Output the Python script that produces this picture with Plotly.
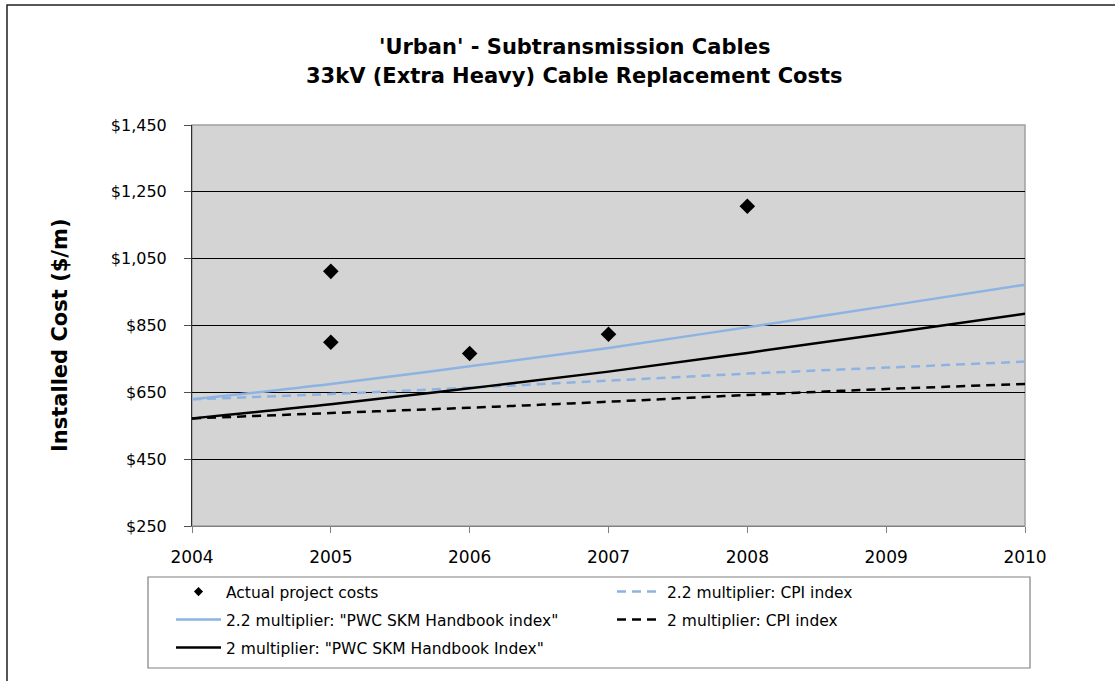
import plotly.graph_objects as go

# Actual project costs ($/m)
project_years = [2005, 2005, 2006, 2007, 2008]
project_costs = [1012, 800, 766, 824, 1207]

# Indexed replacement cost estimates ($/m)
years = [2004, 2005, 2006, 2007, 2008, 2009, 2010]
pwc_22 = [629, 675, 728, 783, 845, 908, 972]
pwc_20 = [572, 614, 662, 712, 768, 826, 885]
cpi_22 = [629, 645, 664, 685, 706, 724, 742]
cpi_20 = [572, 588, 604, 622, 642, 660, 675]

y_ticks = [250, 450, 650, 850, 1050, 1250, 1450]
x_ticks = [2004, 2005, 2006, 2007, 2008, 2009, 2010]

title_lines = ["'Urban' - Subtransmission Cables", "33kV (Extra Heavy) Cable Replacement Costs"]

LIGHT_BLUE = "#8DB3E2"
LEGEND_FONT = dict(family="DejaVu Sans, sans-serif", size=15.5, color="#000000")

fig = go.Figure()

fig.add_trace(go.Scatter(
    x=years, y=cpi_22, mode="lines", name="2.2 multiplier: CPI index",
    line=dict(color=LIGHT_BLUE, width=2.5, dash="9px,6px", shape="spline"),
    legend="legend", legendrank=2,
))
fig.add_trace(go.Scatter(
    x=years, y=cpi_20, mode="lines", name="2 multiplier: CPI index",
    line=dict(color="#000000", width=2.5, dash="9px,6px", shape="spline"),
    legend="legend2", legendrank=2,
))
fig.add_trace(go.Scatter(
    x=years, y=pwc_22, mode="lines", name='2.2 multiplier: "PWC SKM Handbook index"',
    line=dict(color=LIGHT_BLUE, width=2.5, shape="spline"),
    legend="legend2", legendrank=1,
))
fig.add_trace(go.Scatter(
    x=years, y=pwc_20, mode="lines", name='2 multiplier: "PWC SKM Handbook Index"',
    line=dict(color="#000000", width=2.5, shape="spline"),
    legend="legend3", legendrank=1,
))
fig.add_trace(go.Scatter(
    x=project_years, y=project_costs, mode="markers", name="Actual project costs",
    marker=dict(symbol="diamond", size=12, color="#000000"),
    showlegend=False,
))
# legend entry with a smaller diamond
fig.add_trace(go.Scatter(
    x=[None], y=[None], mode="markers", name="Actual project costs",
    marker=dict(symbol="diamond", size=7, color="#000000"),
    legend="legend", legendrank=1,
))

W, H = 1115, 681
L, R, T, B = 192, 90, 125, 155
pw, ph = W - L - R, H - T - B


def px_x(x):
    return (x - L) / pw


def px_y(y):
    return (H - B - y) / ph


legend_common = dict(
    orientation="h", xanchor="left", yanchor="middle", font=LEGEND_FONT,
    bgcolor="rgba(0,0,0,0)", borderwidth=0, itemwidth=45, entrywidth=381,
    traceorder="normal", x=px_x(171),
)

title_font = dict(family="DejaVu Sans, sans-serif", size=21, color="#000000", weight="bold")

fig.update_layout(
    width=W, height=H,
    margin=dict(l=L, r=R, t=T, b=B, autoexpand=False),
    paper_bgcolor="#FFFFFF",
    plot_bgcolor="#D4D4D4",
    xaxis=dict(
        range=[2004, 2010], tickvals=x_ticks, ticktext=[str(v) for v in x_ticks],
        showgrid=False, zeroline=False,
        showline=True, linecolor="#808080", linewidth=1,
        ticks="outside", ticklen=6, tickcolor="#808080",
        tickfont=dict(family="DejaVu Sans, sans-serif", size=17, color="#000000"),
        ticklabelstandoff=10,
    ),
    yaxis=dict(
        range=[250, 1450], tickvals=y_ticks,
        ticktext=["${:,}".format(v) for v in y_ticks],
        showgrid=True, gridcolor="#000000", gridwidth=1, zeroline=False,
        showline=True, linecolor="#303030", linewidth=1,
        ticks="outside", ticklen=7, tickcolor="#505050",
        tickfont=dict(family="DejaVu Sans, sans-serif", size=16, color="#000000"),
        ticklabelstandoff=14,
    ),
    legend=dict(legend_common, y=px_y(592)),
    legend2=dict(legend_common, y=px_y(620)),
    legend3=dict(legend_common, y=px_y(648)),
    annotations=[
        dict(text=title_lines[0], showarrow=False, xref="paper", yref="paper",
             x=px_x(574), y=px_y(47), xanchor="center", yanchor="middle", font=title_font),
        dict(text=title_lines[1], showarrow=False, xref="paper", yref="paper",
             x=px_x(574), y=px_y(76), xanchor="center", yanchor="middle", font=title_font),
        dict(text="Installed Cost ($/m)", textangle=-90, showarrow=False,
             xref="paper", yref="paper", x=px_x(60), y=px_y(335),
             xanchor="center", yanchor="middle",
             font=dict(family="DejaVu Sans, sans-serif", size=21, color="#000000", weight="bold")),
    ],
    shapes=[
        # plot frame (top and right edges)
        dict(type="rect", xref="paper", yref="paper", x0=0, x1=1, y0=0, y1=1,
             line=dict(color="#A0A0A0", width=1.5), layer="below"),
        # legend box
        dict(type="rect", xref="paper", yref="paper",
             x0=px_x(148), x1=px_x(1030), y0=px_y(668), y1=px_y(577),
             line=dict(color="#808080", width=1.2)),
        # outer chart frame
        dict(type="rect", xref="paper", yref="paper",
             x0=px_x(7), x1=px_x(1125), y0=px_y(700), y1=px_y(5),
             line=dict(color="#202020", width=1.5)),
    ],
    showlegend=True,
)

fig.write_html("out.html")
